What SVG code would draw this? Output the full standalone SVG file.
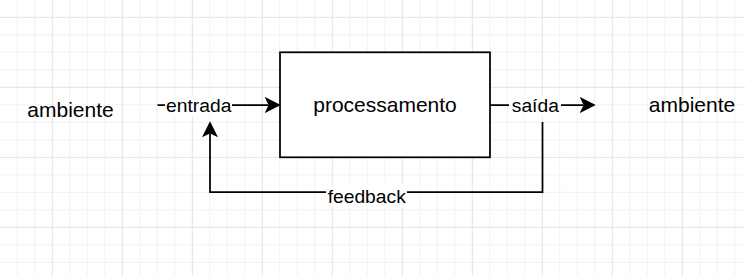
<svg xmlns="http://www.w3.org/2000/svg" width="745" height="276" viewBox="0 0 745 276">
<style>
.minor{stroke:#f2f2f2;stroke-width:1;fill:none}
.major{stroke:#e3e3e3;stroke-width:1;fill:none}
.t{font-family:"Liberation Sans",Arial,sans-serif;fill:#000;text-anchor:middle}
.big{font-size:21px}
.lbl{font-size:19.25px}
.edge{stroke:#000;stroke-width:1.75;fill:none}
.bg{fill:#fff}
</style>
<defs>
<marker id="arr" markerUnits="userSpaceOnUse" markerWidth="16" markerHeight="16" viewBox="0 0 15 15" refX="3.5" refY="7.5" orient="auto">
<path d="M0,0 L15,7.5 L0,15 L3.5,7.5 Z" fill="#000"/>
</marker>
</defs>
<rect width="745" height="276" fill="#fff"/>
<g id="grid">
<path class="minor" d="M17.3,0V276M34.8,0V276M69.8,0V276M87.3,0V276M104.8,0V276M139.8,0V276M157.3,0V276M174.8,0V276M209.8,0V276M227.3,0V276M244.8,0V276M279.8,0V276M297.3,0V276M314.8,0V276M349.8,0V276M367.3,0V276M384.8,0V276M419.8,0V276M437.3,0V276M454.8,0V276M489.8,0V276M507.3,0V276M524.8,0V276M559.8,0V276M577.3,0V276M594.8,0V276M629.8,0V276M647.3,0V276M664.8,0V276M699.8,0V276M717.3,0V276M734.8,0V276M0,34.8H745M0,52.3H745M0,69.8H745M0,104.8H745M0,122.3H745M0,139.8H745M0,174.8H745M0,192.3H745M0,209.8H745M0,244.8H745M0,262.3H745"/>
<path class="major" d="M52.3,0V276M122.3,0V276M192.3,0V276M262.3,0V276M332.3,0V276M402.3,0V276M472.3,0V276M542.3,0V276M612.3,0V276M682.3,0V276M0,17.3H745M0,87.3H745M0,157.3H745M0,227.3H745"/>
</g>
<g id="ambiente-entrada">
<text class="t big" x="70.5" y="117">ambiente</text>
</g>
<g id="processamento">
<rect x="280" y="52.3" width="210" height="105" fill="#fff" stroke="#000" stroke-width="1.75"/>
<text class="t big" x="385" y="112">processamento</text>
</g>
<g id="ambiente-saida">
<text class="t big" x="692" y="112">ambiente</text>
</g>
<g id="connectors">
<g id="edge-entrada">
<path class="edge" d="M157.5,105 H268.5" marker-end="url(#arr)"/>
<rect class="bg" x="165" y="95" width="67" height="21"/>
<text class="t lbl" x="198.7" y="111.5">entrada</text>
</g>
<g id="edge-saida">
<path class="edge" d="M490,105 H583.5" marker-end="url(#arr)"/>
<rect class="bg" x="509" y="95" width="52" height="21"/>
<text class="t lbl" x="535.3" y="111.5">saída</text>
</g>
<g id="edge-feedback">
<path class="edge" d="M542.5,122 V192 H210 V133.5" marker-end="url(#arr)"/>
<rect class="bg" x="326" y="183" width="81" height="24"/>
<text class="t lbl" x="366.7" y="203">feedback</text>
</g>
</g>
</svg>
